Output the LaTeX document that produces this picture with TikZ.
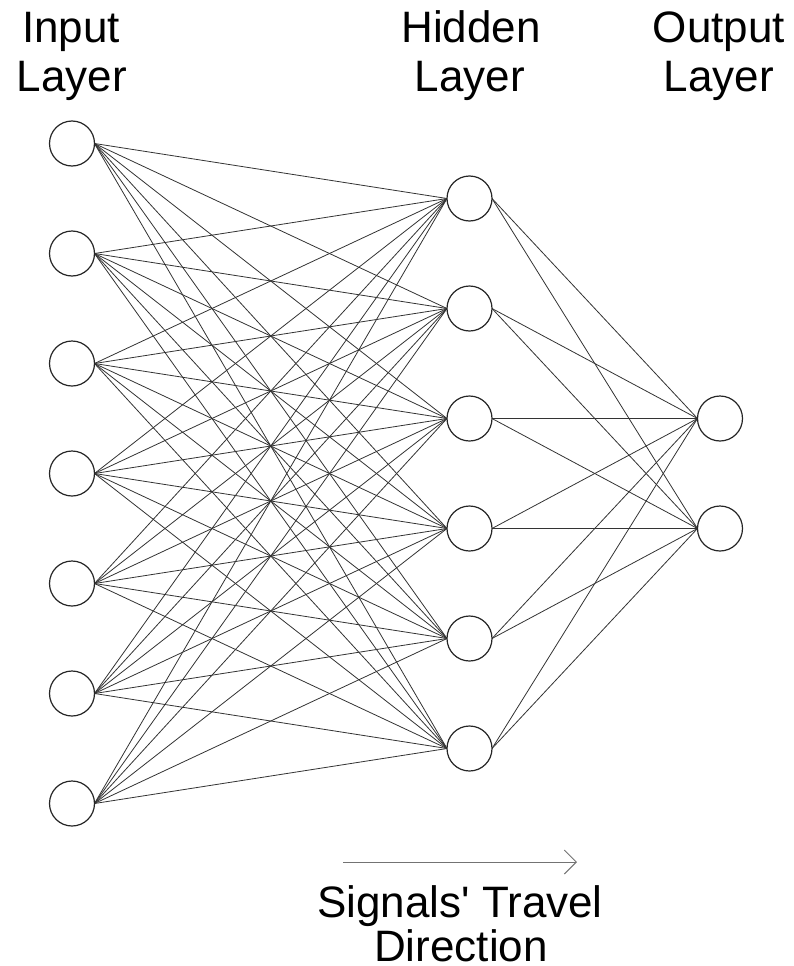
\documentclass[tikz,border=0pt]{standalone}
\usepackage{fontspec}
\setmainfont{Liberation Sans}[Ligatures=TeXOff]
\usetikzlibrary{arrows.meta}
\begin{document}
\begin{tikzpicture}[x=1pt,y=-1pt,
  neuron/.style={circle,draw=black!85,line width=1.2pt,minimum size=45pt,inner sep=0pt,fill=white},
  link/.style={draw=black!80,line width=0.8pt},
  label/.style={font=\fontsize{44}{48}\selectfont,anchor=base,inner sep=0pt},
  flow/.style={draw=black!55,line width=1pt,-{Straight Barb[length=12pt,width=24pt]}}]
\path[use as bounding box] (0,0) rectangle (794,966);
% labels
\node[label] (inp1) at (71,43) {Input};
\node[label] (inp2) at (72,91) {Layer};
\node[label] (hid1) at (471,43) {Hidden};
\node[label] (hid2) at (470,91) {Layer};
\node[label] (out1) at (719,43) {Output};
\node[label] (out2) at (719,91) {Layer};
\node[label] (sig1) at (460,917) {Signals' Travel};
\node[label] (sig2) at (461,961) {Direction};
% connector end points
\foreach \i in {1,...,7} {
  \coordinate (ie\i) at (94.5,{143.5+110*(\i-1)});
}
\foreach \j in {1,...,6} {
  \coordinate (hw\j) at (447,{198.5+110*(\j-1)});
  \coordinate (he\j) at (492,{198.5+110*(\j-1)});
}
\coordinate (ow1) at (697.5,418.5);
\coordinate (ow2) at (697.5,528.5);
\foreach \i in {1,...,7} {
  \foreach \j in {1,...,6} {
    \draw[link] (ie\i) -- (hw\j);
  }
}
\foreach \j in {1,...,6} {
  \foreach \k in {1,2} {
    \draw[link] (he\j) -- (ow\k);
  }
}
% neurons
\foreach \i in {1,...,7} {
  \node[neuron] (in\i) at (72,{143.5+110*(\i-1)}) {};
}
\foreach \j in {1,...,6} {
  \node[neuron] (h\j) at (469.5,{198.5+110*(\j-1)}) {};
}
\node[neuron] (o1) at (720,418.5) {};
\node[neuron] (o2) at (720,528.5) {};
% arrow
\coordinate (a1) at (343,862);
\coordinate (a2) at (577,862);
\draw[flow] (a1) -- (a2);
\end{tikzpicture}
\end{document}
